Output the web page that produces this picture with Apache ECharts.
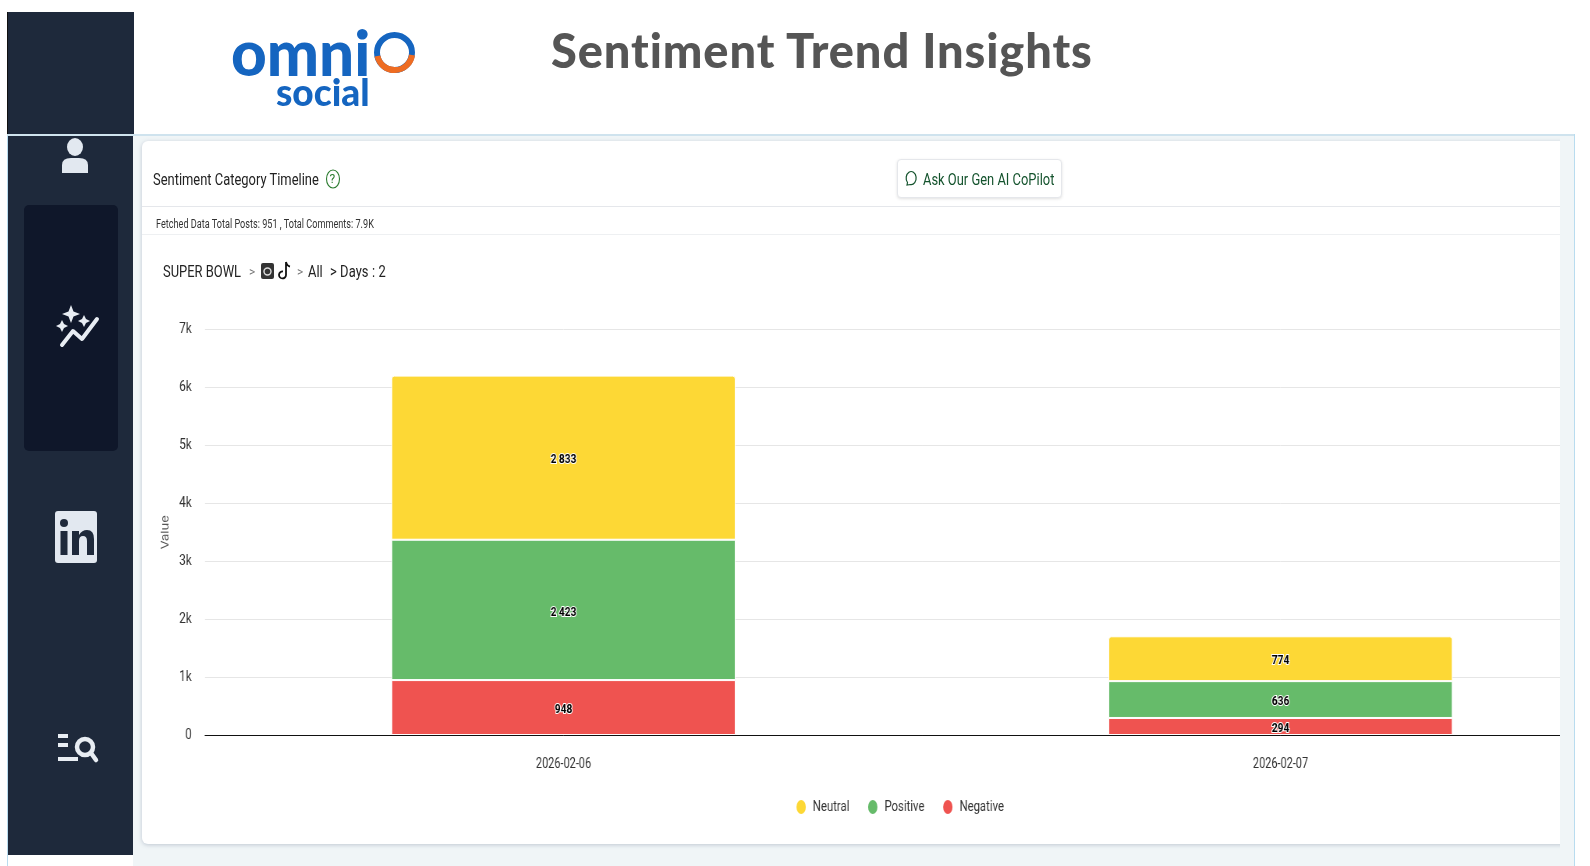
<!DOCTYPE html>
<html><head><meta charset="utf-8">
<script src="https://cdn.jsdelivr.net/npm/echarts@6/dist/echarts.min.js"></script>
<style>
html,body{margin:0;padding:0;width:1590px;height:866px;overflow:hidden;background:#fff;font-family:Roboto,sans-serif;color:#222}
.a{position:absolute;white-space:nowrap}
.n{transform:scaleX(.76);transform-origin:0 50%}
#chart{position:absolute;left:0;top:0;width:2130px;height:866px;transform:scaleX(.78);transform-origin:0 0}
svg{position:absolute;overflow:visible}
</style></head><body>
<div class="a" style="left:133px;top:134px;width:1442px;height:732px;background:#f0f5f7"></div>
<div class="a" style="left:7px;top:134px;width:1568px;height:732px;box-sizing:border-box;border:1px solid #b9dcef;border-bottom:none"></div>
<div class="a" style="left:7px;top:134px;width:1568px;height:2px;background:#cfe3ee"></div>
<div class="a" style="left:142px;top:141px;width:1450px;height:703px;background:#fff;border-radius:6px;box-shadow:0 1px 4px rgba(100,116,139,.35)"></div>
<div class="a" style="left:142px;top:206px;width:1418px;height:1px;background:#e5e7eb"></div>
<div class="a" style="left:142px;top:234px;width:1418px;height:1px;background:#eef0f2"></div>

<div id="chart"></div>

<div class="a" style="left:1560px;top:136px;width:14px;height:730px;background:#f0f5f7"></div>
<div class="a" style="left:1574px;top:134px;width:1px;height:732px;background:#b9dcef"></div>
<div class="a" style="left:1575px;top:0;width:15px;height:866px;background:#fff"></div>

<div class="a" style="left:7px;top:12px;width:126px;height:122px;background:#1e293b;border-left:1px solid #111"></div>
<div class="a" style="left:8px;top:136px;width:125px;height:719px;background:#1e293b"></div>
<div class="a" style="left:24px;top:205px;width:94px;height:246px;background:#0f172a;border-radius:5px"></div>

<div class="a" style="left:231px;top:15px;font:900 62px Lato,'Open Sans',sans-serif;color:#1565c0;line-height:74px">omni</div>
<div class="a" style="left:276px;top:70px;font:900 37px Lato,'Open Sans',sans-serif;color:#1565c0;line-height:44px">social</div>
<div class="a" style="left:551px;top:22px;font:900 47px Lato,'Open Sans',sans-serif;color:#555;line-height:56px;letter-spacing:.9px">Sentiment Trend Insights</div>
<div class="a n" style="left:153px;top:169px;font-size:17px;line-height:20px">Sentiment Category Timeline</div>
<div class="a" style="left:329.500px;top:171px;font-size:12px;line-height:16px;color:#2e7d32">?</div>
<div class="a n" style="left:156px;top:217px;font-size:12px;line-height:14px;color:#333">Fetched Data Total Posts: 951 , Total Comments: 7.9K</div>
<div class="a" style="left:897px;top:159px;width:165px;height:39px;box-sizing:border-box;border:1px solid #e5e7eb;border-radius:4px;box-shadow:0 1px 3px rgba(0,0,0,.12);background:#fff"></div>
<div class="a n" style="left:923px;top:169px;font-size:17px;line-height:20px;color:#14532d">Ask Our Gen AI CoPilot</div>
<div class="a n" style="left:163px;top:261px;font-size:17px;line-height:20px">SUPER BOWL</div>
<div class="a" style="left:249px;top:262px;font-size:12px;line-height:20px;color:#777">&gt;</div>
<div class="a" style="left:297px;top:262px;font-size:12px;line-height:20px;color:#777">&gt;</div>
<div class="a n" style="left:308px;top:261px;font-size:17px;line-height:20px">All</div>
<div class="a n" style="left:330px;top:261px;font-size:17px;line-height:20px;letter-spacing:.1px">&gt; Days : 2</div>

<svg style="left:0;top:0" width="1" height="1">
  <g fill="#e2e8f0">
    <ellipse cx="75" cy="147" rx="8" ry="9"/>
    <path d="M62 173v-8q0-7 9-7h8q9 0 9 7v8z"/>
  </g>
  <g fill="none" stroke="#e8edf3" stroke-width="4" stroke-linecap="round" stroke-linejoin="round">
    <path d="M62 345L73 331L82 339L97 319"/>
  </g>
  <g fill="#e8edf3">
    <path d="M71 305l2.5 6.5 6.5 2.5-6.5 2.5-2.5 6.5-2.5-6.500-6.500-2.500 6.500-2.500z"/>
    <path d="M84 315l2 4 4 2-4 2-2 4-2-4-4-2 4-2z"/>
    <path d="M62 320l2 4 4 2-4 2-2 4-2-4-4-2 4-2z"/>
  </g>
  <rect x="55" y="511" width="42" height="52" rx="3" fill="#e2e8f0"/>
  <g fill="#1e293b"><circle cx="64" cy="523" r="4"/><rect x="60.500" y="531" width="7" height="24"/>
    <path d="M72 531h7v4q3-5 8-5 7 0 7 9v16h-7v-14q0-5-4-5t-4 5v14h-7z"/></g>
  <g fill="#e8edf3">
    <rect x="58" y="734" width="10" height="4"/><rect x="58" y="743" width="10" height="4"/><rect x="58" y="757" width="20" height="4"/>
  </g>
  <circle cx="85" cy="747" r="8" fill="none" stroke="#e8edf3" stroke-width="4.500"/>
  <path d="M91 753L96 760" stroke="#e8edf3" stroke-width="4.500" stroke-linecap="round"/>
  <circle cx="394.500" cy="52.500" r="17.500" fill="none" stroke="#1565c0" stroke-width="6"/>
  <path d="M377.500 56a17.500 17.500 0 0 0 34.500 -1" fill="none" stroke="#ee6c22" stroke-width="6"/>
  <ellipse cx="333" cy="179" rx="6.500" ry="9" fill="none" stroke="#2e7d32" stroke-width="1.100"/>
  <path d="M907 185l0.500-2.500a5 6.500 0 1 1 3 2z" fill="none" stroke="#14532d" stroke-width="1.200"/>
  <rect x="261" y="263" width="13" height="16" rx="2" fill="#333"/>
  <circle cx="267.500" cy="271.500" r="3.500" fill="none" stroke="#ddd" stroke-width="1.400"/>
  <path d="M286 262v13a3.500 3.500 0 1 1 -3 -3.500M286 262q1 4 4 4.500" fill="none" stroke="#111" stroke-width="1.800"/>
</svg>

<script>
const categories = ['2026-02-06', '2026-02-07'];
const neutral = [2833, 774];
const positive = [2423, 636];
const negative = [948, 294];
const yTicks = [0, 1000, 2000, 3000, 4000, 5000, 6000, 7000];
const colors = {Neutral:'#FDD835', Positive:'#66BB6A', Negative:'#EF5350'};
const FONT = 'Roboto,sans-serif';
const S = 0.78;
const fmtK = v => v === 0 ? '0' : (v / 1000) + 'k';
const fmtVal = p => String(p.value).replace(/\B(?=(\d{3})+$)/g, ' ');
function bar(name, data, radius) {
  return {
    name, type: 'bar', stack: 'total', data, barWidth: '48%',
    itemStyle: {color: colors[name], borderColor: '#fff', borderWidth: 1, borderRadius: radius},
    label: {show: true, position: 'inside', offset: [0, 2.5], formatter: fmtVal, color: '#000', fontFamily: FONT, fontSize: 13,
      fontWeight: 'bold', textBorderColor: '#fff', textBorderWidth: 2}
  };
}
const chart = echarts.init(document.getElementById('chart'), null, {renderer: 'canvas'});
chart.setOption({
  animation: false,
  backgroundColor: 'transparent',
  grid: {left: 205 / S, top: 329.5, width: 1434 / S, height: 405.5, containLabel: false},
  legend: {
    left: 791 / S, top: 793, itemWidth: 14, itemHeight: 16, itemGap: 22,
    icon: 'path://M50 0A50 50 0 1 1 50 100A50 50 0 1 1 50 0Z', symbolKeepAspect: false,
    data: ['Neutral', 'Positive', 'Negative'],
    textStyle: {fontFamily: FONT, fontSize: 14.5, color: '#333', padding: [0, 0, 0, 3]}
  },
  xAxis: {
    type: 'category', data: categories,
    axisLine: {lineStyle: {color: '#111', width: 1}}, axisTick: {show: false},
    axisLabel: {fontFamily: FONT, fontSize: 14, color: '#333', margin: 22}
  },
  yAxis: {
    type: 'value', min: yTicks[0], max: yTicks[yTicks.length - 1], interval: yTicks[1] - yTicks[0],
    name: 'Value', nameLocation: 'middle', nameRotate: 90, nameGap: 36,
    nameTextStyle: {fontFamily: 'Inter,sans-serif', fontSize: 13, color: '#555'},
    axisLine: {show: false}, axisTick: {show: false},
    splitLine: {lineStyle: {color: '#e6e6e6', width: 1}},
    axisLabel: {formatter: fmtK, fontFamily: FONT, fontSize: 15, color: '#333', margin: 17, padding: [5, 0, 0, 0],
      verticalAlignMinLabel: 'middle', verticalAlignMaxLabel: 'middle'}
  },
  series: [bar('Negative', negative, 0), bar('Positive', positive, 0), bar('Neutral', neutral, [3, 3, 0, 0])]
});
</script>
</body></html>
